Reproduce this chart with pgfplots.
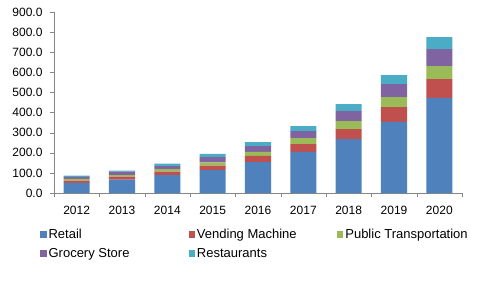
\documentclass[border=0pt]{standalone}
\usepackage{pgfplots}
\pgfplotsset{compat=1.18}
\usetikzlibrary{calc}
\usepackage{fontspec}
\setmainfont{Liberation Sans}
\definecolor{cRetail}{HTML}{4F81BD}
\definecolor{cVend}{HTML}{C0504D}
\definecolor{cPub}{HTML}{9BBB59}
\definecolor{cGroc}{HTML}{8064A2}
\definecolor{cRest}{HTML}{4BACC6}
\definecolor{axisgray}{HTML}{868686}
\pgfplotsset{
  sq/.style={fill=#1, draw=none, legend image code/.code={\fill[#1] (0bp,-3.2bp) rectangle (6.4bp,3.2bp);}},
}
\begin{document}
\begin{tikzpicture}
\begin{axis}[
  scale only axis, width=408bp, height=181bp,
  ybar stacked, bar width=0.574,
  xmin=-0.5, xmax=8.5, ymin=0, ymax=900,
  xtick={0,...,8}, xticklabels={2012,2013,2014,2015,2016,2017,2018,2019,2020},
  minor xtick={-0.5,0.5,...,8.5},
  major x tick style={draw=none},
  ytick={0,100,...,900},
  scaled y ticks=false,
  y tick label style={xshift=-4bp, /pgf/number format/.cd, fixed, fixed zerofill, precision=1, assume math mode=true},
  x tick label style={yshift=-6bp},
  axis x line*=bottom, axis y line*=left,
  axis line style={draw=axisgray, -},
  tick style={draw=axisgray},
  tick align=outside,
  major tick length=4bp, minor tick length=4bp,
  tick label style={font=\fontsize{12bp}{14bp}\selectfont},
  legend columns=3,
  legend cell align=left,
  legend style={at={(axis description cs:0,0)}, anchor=north west, xshift=-14bp, yshift=-34bp,
    draw=none, fill=none, inner sep=0pt, row sep=4bp,
    font=\fontsize{13bp}{15bp}\selectfont,
    /tikz/every even column/.append style={column sep=0pt}},
]
\addplot+[sq=cRetail] coordinates {(0,50) (1,66) (2,89) (3,114) (4,154) (5,204) (6,268) (7,354) (8,473)};
\addlegendentry{\makebox[138bp][l]{Retail}}
\addplot+[sq=cVend] coordinates {(0,12) (1,15) (2,17) (3,22) (4,30) (5,39) (6,50) (7,73) (8,93)};
\addlegendentry{\makebox[138bp][l]{Vending Machine}}
\addplot+[sq=cPub] coordinates {(0,8) (1,8) (2,13) (3,16) (4,20) (5,30) (6,39) (7,50) (8,65)};
\addlegendentry{Public Transportation}
\addplot+[sq=cGroc] coordinates {(0,10) (1,17) (2,15) (3,27) (4,29) (5,35) (6,50) (7,64) (8,84)};
\addlegendentry{\makebox[138bp][l]{Grocery Store}}
\addplot+[sq=cRest] coordinates {(0,6) (1,5) (2,12) (3,15) (4,20) (5,25) (6,35) (7,45) (8,60)};
\addlegendentry{\makebox[138bp][l]{Restaurants}}
\coordinate (sw) at (rel axis cs:0,0);
\end{axis}
\pgfresetboundingbox
\path[use as bounding box] ($(sw)+(-54bp,-94bp)$) rectangle ($(sw)+(423bp,193bp)$);
\end{tikzpicture}
\end{document}
